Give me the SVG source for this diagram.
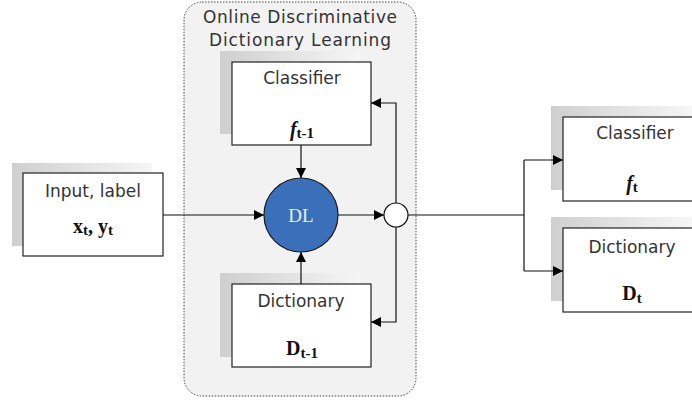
<svg xmlns="http://www.w3.org/2000/svg" width="692" height="400" viewBox="0 0 692 400">
<defs>
<linearGradient id="sh" x1="0" y1="0" x2="1" y2="0">
<stop offset="0" stop-color="#cfcfcf"/>
<stop offset="1" stop-color="#f6f6f6"/>
</linearGradient>
<marker id="ah" viewBox="0 0 10 10" refX="10" refY="5" markerWidth="10" markerHeight="10" markerUnits="userSpaceOnUse" orient="auto">
<path d="M0,0 L10,5 L0,10 z" fill="#000"/>
</marker>
<style>
.box{fill:#fff;stroke:#222;stroke-width:1.2}
.shadow{fill:url(#sh)}
.lbl{font-family:"DejaVu Sans","Liberation Sans",Arial,sans-serif;font-size:17px;fill:#333;text-anchor:middle}
.math{font-family:"Liberation Serif","Times New Roman",serif;font-weight:bold;font-size:20px;fill:#111;text-anchor:middle}
.sub{font-size:15px}
.conn{fill:none;stroke:#111;stroke-width:1.2}
</style>
</defs>
<g id="container">
<rect x="184" y="2" width="232" height="394" rx="18" ry="18" fill="#f2f2f2" stroke="#444" stroke-width="1" stroke-dasharray="1.5,1.5"/>
<text class="lbl" x="300" y="23" textLength="194">Online Discriminative</text>
<text class="lbl" x="300" y="46" textLength="182">Dictionary Learning</text>
</g>
<g id="classifier-prev">
<rect class="shadow" x="220" y="51" width="140" height="83"/>
<rect class="box" x="232" y="62" width="139" height="83"/>
<text class="lbl" x="302" y="84">Classifier</text>
<text class="math" x="302" y="136"><tspan font-style="italic">f</tspan><tspan class="sub" dy="2">t-1</tspan></text>
</g>
<g id="dictionary-prev">
<rect class="shadow" x="220" y="273" width="140" height="84"/>
<rect class="box" x="232" y="284" width="139" height="83"/>
<text class="lbl" x="301" y="307">Dictionary</text>
<text class="math" x="302" y="355">D<tspan class="sub" dy="3">t-1</tspan></text>
</g>
<g id="input">
<rect class="shadow" x="12" y="163" width="140" height="83"/>
<rect class="box" x="23" y="173" width="140" height="83"/>
<text class="lbl" x="93" y="197">Input, label</text>
<text class="math" x="93" y="233">x<tspan class="sub" dy="2">t</tspan><tspan dy="-2">, y</tspan><tspan class="sub" dy="2">t</tspan></text>
</g>
<g id="dl">
<circle cx="301" cy="215" r="37" fill="#3a70b9" stroke="#1a1a1a" stroke-width="1.2"/>
<text x="301" y="222" font-family="'Liberation Serif','Times New Roman',serif" font-size="19" fill="#e8eef8" text-anchor="middle">DL</text>
</g>
<g id="junction">
<circle cx="396" cy="215" r="12" fill="#fff" stroke="#111" stroke-width="1.2"/>
</g>
<g id="classifier-new">
<rect class="shadow" x="551" y="106" width="141" height="84"/>
<rect class="box" x="563" y="117" width="140" height="84"/>
<text class="lbl" x="635" y="139">Classifier</text>
<text class="math" x="632" y="190"><tspan font-style="italic">f</tspan><tspan class="sub" dy="2">t</tspan></text>
</g>
<g id="dictionary-new">
<rect class="shadow" x="551" y="217" width="141" height="84"/>
<rect class="box" x="563" y="228" width="140" height="84"/>
<text class="lbl" x="632" y="253">Dictionary</text>
<text class="math" x="632" y="300">D<tspan class="sub" dy="3">t</tspan></text>
</g>
<g id="connectors">
<path class="conn" d="M163,215 H264" marker-end="url(#ah)"/>
<path class="conn" d="M301,145 V178" marker-end="url(#ah)"/>
<path class="conn" d="M301,284 V252" marker-end="url(#ah)"/>
<path class="conn" d="M338,215 H384" marker-end="url(#ah)"/>
<path class="conn" d="M396,203 V103 H371" marker-end="url(#ah)"/>
<path class="conn" d="M396,227 V322 H371" marker-end="url(#ah)"/>
<path class="conn" d="M408,215 H524"/>
<path class="conn" d="M524,160 V271"/>
<path class="conn" d="M524,160 H563" marker-end="url(#ah)"/>
<path class="conn" d="M524,271 H563" marker-end="url(#ah)"/>
</g>
</svg>
